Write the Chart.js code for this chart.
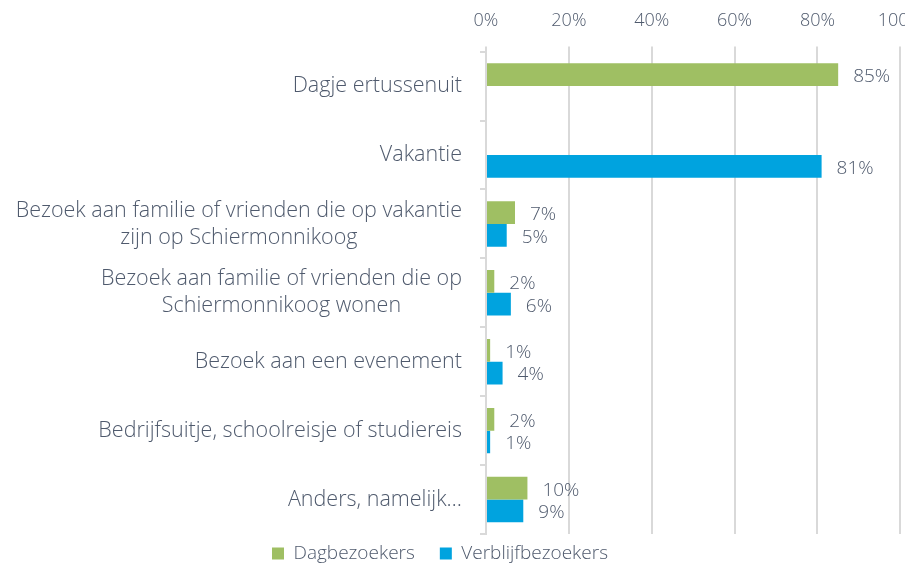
<!DOCTYPE html>
<html>
<head>
<meta charset="utf-8">
<script src="https://cdn.jsdelivr.net/npm/chart.js@4"></script>
<style>
  html, body { margin: 0; padding: 0; overflow: hidden; background: #fff; }
  #wrap { position: absolute; left: 0; top: -15px; width: 938px; height: 603px; }
</style>
</head>
<body>
<div id="wrap"><canvas id="grafico"></canvas></div>
<script>
const categorias = [
  "Dagje ertussenuit",
  "Vakantie",
  ["Bezoek aan familie of vrienden die op vakantie", "zijn op Schiermonnikoog"],
  ["Bezoek aan familie of vrienden die op", "Schiermonnikoog wonen"],
  "Bezoek aan een evenement",
  "Bedrijfsuitje, schoolreisje of studiereis",
  "Anders, namelijk\u2026"
];
const dagbezoekers = [85, null, 7, 2, 1, 2, 10];
const verblijfbezoekers = [null, 81, 5, 6, 4, 1, 9];
const ticksX = [0, 20, 40, 60, 80, 100];

const colorTexto = "#4f5a6d";
const colorRejilla = "#d9d9d9";
const fuente = "Open Sans";

// etiquetas de valores y de categorias (centradas por bloque)
const etiquetas = {
  id: "etiquetas",
  afterDatasetsDraw(chart) {
    const ctx = chart.ctx;
    ctx.save();
    ctx.fillStyle = colorTexto;
    ctx.textBaseline = "middle";
    ctx.textAlign = "left";
    ctx.font = `300 19px "${fuente}"`;
    chart.data.datasets.forEach((ds, i) => {
      chart.getDatasetMeta(i).data.forEach((bar, j) => {
        const v = ds.data[j];
        if (v === null) return;
        ctx.fillText(v + "%", bar.x + 15, bar.y + 2);
      });
    });

    const ejeY = chart.scales.y;
    ctx.font = `300 21.5px "${fuente}"`;
    ctx.textAlign = "center";
    const derecha = ejeY.right - 24;
    chart.data.labels.forEach((lab, i) => {
      const lineas = Array.isArray(lab) ? lab : [lab];
      const ancho = Math.max(...lineas.map(t => ctx.measureText(t).width));
      const cy = ejeY.getPixelForValue(i);
      lineas.forEach((t, k) => {
        ctx.fillText(t, derecha - ancho / 2, cy + (k - (lineas.length - 1) / 2) * 27);
      });
    });
    ctx.restore();
  }
};

// la leyenda esta un poco mas arriba y a la izquierda
const moverLeyenda = {
  id: "moverLeyenda",
  afterLayout(chart) {
    const l = chart.legend;
    if (!l) return;
    l.top -= 15; l.bottom -= 15;
    l.left -= 29; l.right -= 29;
  }
};

new Chart(document.getElementById("grafico"), {
  type: "bar",
  data: {
    labels: categorias,
    datasets: [
      { label: "Dagbezoekers", data: dagbezoekers, backgroundColor: "#9fbf63" },
      { label: "Verblijfbezoekers", data: verblijfbezoekers, backgroundColor: "#00a3df" }
    ]
  },
  options: {
    indexAxis: "y",
    responsive: true,
    maintainAspectRatio: false,
    animation: false,
    categoryPercentage: 0.66,
    barPercentage: 1.0,
    layout: { padding: { top: 10, left: 0, right: 0, bottom: 0 } },
    scales: {
      x: {
        position: "top",
        min: 0,
        max: 100,
        afterBuildTicks: s => { s.ticks = ticksX.map(v => ({ value: v })); },
        ticks: {
          callback: v => v + "%",
          color: colorTexto,
          font: { family: fuente, size: 18, weight: 300 },
          padding: 15,
          maxRotation: 0
        },
        grid: { color: colorRejilla, lineWidth: 2, tickLength: 5, drawTicks: true },
        border: { display: false }
      },
      y: {
        ticks: { display: false },
        grid: { drawOnChartArea: false, color: colorRejilla, lineWidth: 2, tickLength: 6, offset: true },
        border: { display: true, color: colorRejilla, width: 2 },
        afterFit: s => { s.width = 486; }
      }
    },
    plugins: {
      legend: {
        position: "bottom",
        labels: {
          boxWidth: 12,
          boxHeight: 12,
          padding: 25,
          color: colorTexto,
          font: { family: fuente, size: 19, weight: 300 }
        }
      },
      tooltip: { enabled: false }
    }
  },
  plugins: [etiquetas, moverLeyenda]
});
</script>
</body>
</html>
